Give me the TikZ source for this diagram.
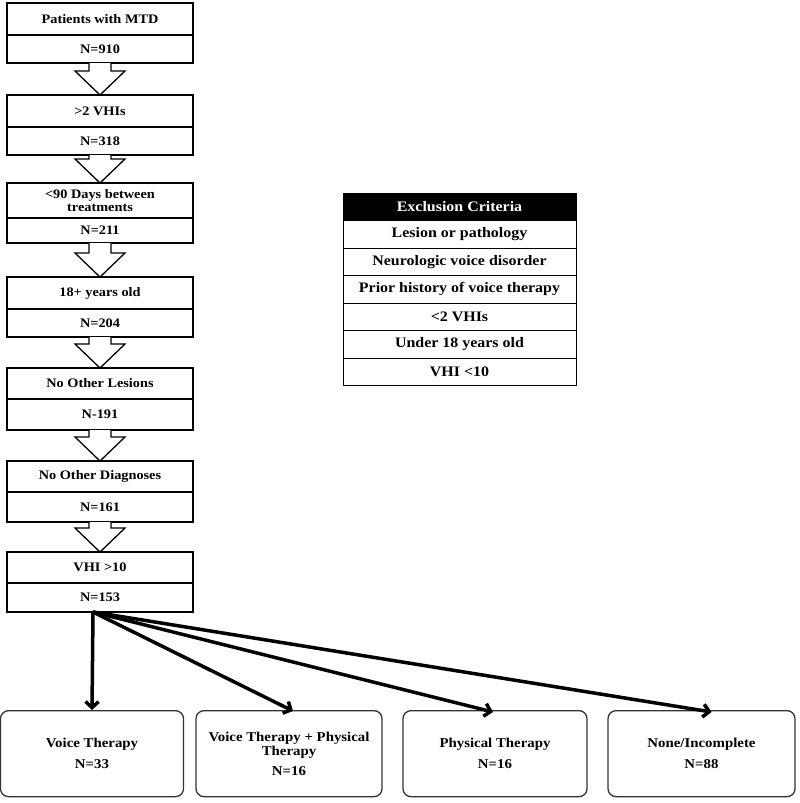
\documentclass[tikz,border=0pt]{standalone}
\usepackage{fontspec}
\setmainfont[FakeStretch=1.1]{Liberation Serif}
\usetikzlibrary{positioning,calc,arrows.meta}

\tikzset{
  crit/.style={draw, line width=1.3pt, outer sep=0pt, minimum width=186pt, minimum height=32pt, inner sep=1pt, align=center, anchor=north},
  cnt/.style={draw, line width=1.3pt, outer sep=0pt, minimum width=186pt, minimum height=28pt, inner sep=1pt, anchor=north},
  excl/.style={draw, line width=1pt, outer sep=0pt, minimum width=233pt, minimum height=27.5pt, inner sep=1pt, anchor=north, font=\fontsize{14.5}{16}\selectfont\bfseries},
  exclhead/.style={excl, fill=black, text=white},
  outcome/.style={draw=black!80, line width=1.3pt, rounded corners=8pt, minimum width=183pt, minimum height=86pt, align=center, anchor=north, font=\fontsize{13.5}{15}\selectfont\bfseries},
  hollow/.style={draw, line width=1.3pt, fill=white, line join=miter},
  fanarrow/.style={line width=3.5pt, -{Straight Barb[length=6pt,width=13pt]}}
}

\begin{document}
\begin{tikzpicture}[x=1pt, y=-1pt, font=\fontsize{13}{14.5}\selectfont\bfseries]
  \useasboundingbox (0,0) rectangle (800,803);

  % inclusion steps
  \node[crit] (c1) at (100,3) {Patients with MTD};
  \node[cnt, below=0pt of c1] (n1) {N=910};
  \node[crit] (c2) at (100,95) {>2 VHIs};
  \node[cnt, below=0pt of c2] (n2) {N=318};
  \node[crit, minimum height=35pt] (c3) at (100,183) {<90 Days between\\[-2pt]treatments};
  \node[cnt, minimum height=25pt, below=0pt of c3] (n3) {N=211};
  \node[crit] (c4) at (100,277) {18+ years old};
  \node[cnt, below=0pt of c4] (n4) {N=204};
  \node[crit, minimum height=31pt] (c5) at (100,368) {No Other Lesions};
  \node[cnt, minimum height=31pt, below=0pt of c5] (n5) {N-191};
  \node[crit, minimum height=31pt] (c6) at (100,461) {No Other Diagnoses};
  \node[cnt, minimum height=30pt, below=0pt of c6] (n6) {N=161};
  \node[crit, minimum height=31pt] (c7) at (100,552) {VHI >10};
  \node[cnt, minimum height=29pt, below=0pt of c7] (n7) {N=153};

  % block arrows
  \foreach \a/\b in {n1/c2, n2/c3, n3/c4, n4/c5, n5/c6, n6/c7}
    \draw[hollow] ($(\a.south)+(-11,0)$) -- ($(\b.north)+(-11,-24)$) -- ($(\b.north)+(-25,-24)$)
      -- (\b.north) -- ($(\b.north)+(25,-24)$) -- ($(\b.north)+(11,-24)$) -- ($(\a.south)+(11,0)$);

  % exclusion table
  \node[exclhead] (e0) at (459.5,193) {Exclusion Criteria};
  \node[excl, below=0pt of e0] (e1) {Lesion or pathology};
  \node[excl, below=0pt of e1] (e2) {Neurologic voice disorder};
  \node[excl, below=0pt of e2] (e3) {Prior history of voice therapy};
  \node[excl, below=0pt of e3] (e4) {<2 VHIs};
  \node[excl, below=0pt of e4] (e5) {Under 18 years old};
  \node[excl, below=0pt of e5] (e6) {VHI <10};

  % outcomes
  \node[outcome] (o1) at (92,710) {Voice Therapy\\[6pt]N=33};
  \node[outcome, minimum width=186pt] (o2) at (289,710) {Voice Therapy + Physical\\[-1pt]Therapy\\[5pt]N=16};
  \node[outcome, minimum width=184pt] (o3) at (495,710) {Physical Therapy\\[6pt]N=16};
  \node[outcome, minimum width=187pt] (o4) at (701.5,710) {None/Incomplete\\[6pt]N=88};

  \coordinate (fan) at (93,612);
  \draw[fanarrow] (fan) -- (o1.north);
  \draw[fanarrow] (fan) -- ($(o2.north)+(4,1)$);
  \draw[fanarrow] (fan) -- ($(o3.north)+(-2,2)$);
  \draw[fanarrow] (fan) -- ($(o4.north)+(10,2)$);
\end{tikzpicture}
\end{document}
